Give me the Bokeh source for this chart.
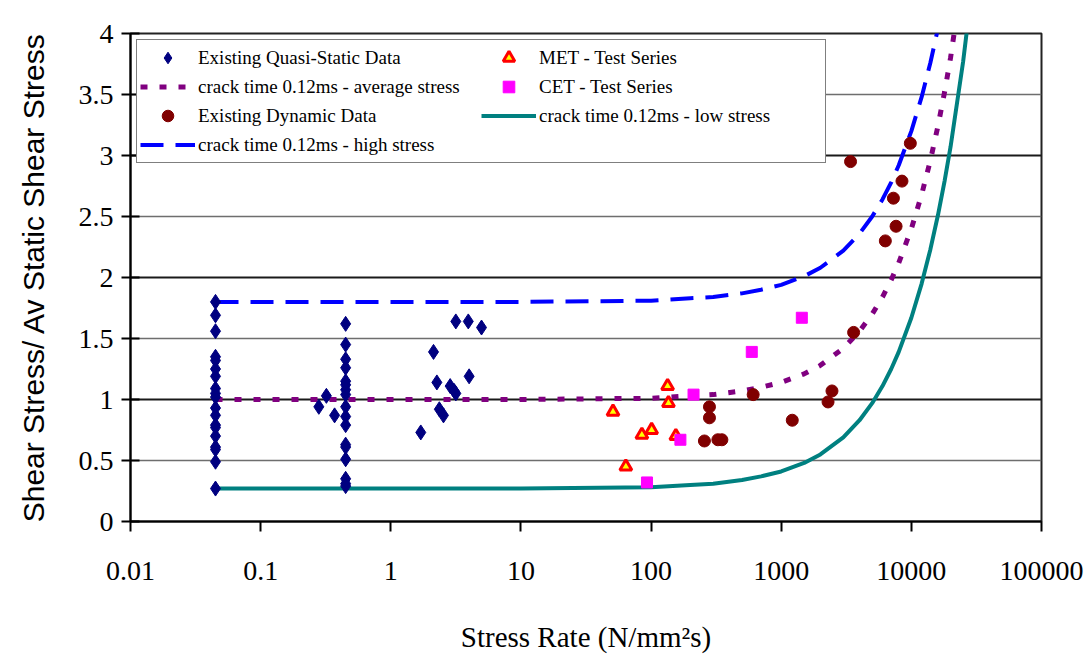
from bokeh.plotting import figure
from bokeh.models import (Range1d, FixedTicker, CustomJSTickFormatter, Grid,
                          Legend, LegendItem)
from bokeh.embed import file_html
from bokeh.resources import INLINE

# ---- data -------------------------------------------------------------
# Existing quasi-static data (stress rate N/mm^2 s, shear stress ratio)
qs_rate = [0.045, 0.045, 0.045, 0.045, 0.045, 0.045, 0.045, 0.045, 0.045, 0.045,
           0.045, 0.045, 0.045, 0.045, 0.045, 0.045, 0.045, 0.045, 0.045,
           0.45, 0.45, 0.45, 0.45, 0.45, 0.45, 0.45, 0.45, 0.45, 0.45,
           0.45, 0.45, 0.45, 0.45, 0.45, 0.45, 0.45,
           0.28, 0.32, 0.37, 1.7, 2.13, 2.26, 2.36, 2.54, 2.86, 3.07,
           3.16, 3.16, 3.94, 4.0, 4.98]
qs_ratio = [1.80, 1.69, 1.56, 1.35, 1.32, 1.25, 1.19, 1.09, 1.05, 1.02,
            0.93, 0.87, 0.79, 0.77, 0.70, 0.61, 0.59, 0.49, 0.27,
            1.62, 1.45, 1.33, 1.26, 1.15, 1.12, 1.08, 1.04, 0.94, 0.86,
            0.79, 0.63, 0.61, 0.51, 0.35, 0.31, 0.29,
            0.94, 1.03, 0.87, 0.73, 1.39, 1.14, 0.92, 0.87, 1.11, 1.07,
            1.05, 1.64, 1.64, 1.19, 1.59]

# Existing dynamic data
dyn_rate = [257, 281, 281, 326, 350, 609, 1216, 2290, 2455, 3600,
            3410, 6310, 7280, 7630, 8470, 9820]
dyn_ratio = [0.66, 0.94, 0.85, 0.67, 0.67, 1.04, 0.83, 0.98, 1.07, 1.55,
             2.95, 2.30, 2.65, 2.42, 2.79, 3.10]

# MET - test series
met_rate = [51, 64, 85, 101, 134, 136, 155]
met_ratio = [0.90, 0.45, 0.71, 0.75, 1.11, 0.97, 0.70]

# CET - test series
cet_rate = [93, 168, 212, 594, 1440]
cet_ratio = [0.32, 0.67, 1.04, 1.39, 1.67]

# crack time 0.12 ms curves
curve_rate = [0.045, 1, 10, 100, 200, 300, 500, 700, 1000, 1500, 2000, 3000,
              4000, 5000, 6000, 7000, 8000, 10000, 12000, 14000, 16000,
              18000, 20000, 25000, 30000]
high_ratio = [1.80, 1.80, 1.80, 1.81, 1.83, 1.84, 1.87, 1.90, 1.94, 2.01, 2.08,
              2.22, 2.36, 2.50, 2.64, 2.78, 2.92, 3.20, 3.48, 3.76, 4.04,
              4.32, 4.60, 5.30, 6.00]
avg_ratio = [1.00, 1.00, 1.00, 1.01, 1.03, 1.04, 1.07, 1.10, 1.14, 1.21, 1.28,
             1.42, 1.56, 1.70, 1.84, 1.98, 2.12, 2.40, 2.68, 2.96, 3.24,
             3.52, 3.80, 4.50, 5.20]
low_ratio = [0.27, 0.27, 0.27, 0.28, 0.30, 0.31, 0.34, 0.37, 0.41, 0.48, 0.55,
             0.69, 0.83, 0.97, 1.11, 1.25, 1.39, 1.67, 1.95, 2.23, 2.51,
             2.79, 3.07, 3.77, 4.47]

x_ticks = [0.01, 0.1, 1, 10, 100, 1000, 10000, 100000]
y_ticks = [0, 0.5, 1, 1.5, 2, 2.5, 3, 3.5, 4]

SERIF = "Liberation Serif"
SANS = "Liberation Sans"

# ---- figure -----------------------------------------------------------
p = figure(width=1087, height=663, x_axis_type="log",
           x_range=Range1d(0.01, 100000), y_range=Range1d(0, 4),
           output_backend="svg", toolbar_location=None,
           min_border_left=130, min_border_right=46,
           min_border_top=33, min_border_bottom=142)
p.background_fill_color = "white"
p.border_fill_color = "white"
p.outline_line_color = "#222222"
p.outline_line_width = 2

# gridlines: lighter at half steps, darker at whole numbers
p.xgrid.grid_line_color = None
p.ygrid.ticker = FixedTicker(ticks=[0.5, 1.5, 2.5, 3.5])
p.ygrid.grid_line_color = "#6e6e6e"
p.ygrid.grid_line_width = 1.5
p.add_layout(Grid(dimension=1, ticker=FixedTicker(ticks=[1, 2, 3]),
                  grid_line_color="#1a1a1a", grid_line_width=2))

tick_fmt = CustomJSTickFormatter(code="return tick.toString();")

xa = p.xaxis[0]
xa.ticker = FixedTicker(ticks=x_ticks)
xa.formatter = tick_fmt
xa.axis_label = "Stress Rate (N/mm\u00b2s)"
xa.axis_label_text_font = SERIF
xa.axis_label_text_font_size = "29px"
xa.axis_label_text_font_style = "normal"
xa.axis_label_standoff = 38
xa.major_label_text_font = SERIF
xa.major_label_text_font_size = "28px"
xa.major_label_standoff = 30
xa.major_tick_in = 0
xa.major_tick_out = 10
xa.minor_tick_line_color = None
xa.axis_line_width = 2
xa.major_tick_line_width = 2
xa.axis_line_color = "black"
xa.major_label_text_color = "black"
xa.axis_label_text_color = "black"

ya = p.yaxis[0]
ya.ticker = FixedTicker(ticks=y_ticks)
ya.formatter = tick_fmt
ya.axis_label = "Shear Stress/ Av Static Shear Stress"
ya.axis_label_text_font = SANS
ya.axis_label_text_font_size = "30px"
ya.axis_label_text_font_style = "normal"
ya.axis_label_standoff = 26
ya.major_label_text_font = SERIF
ya.major_label_text_font_size = "28px"
ya.major_label_standoff = 8
ya.major_tick_in = 9
ya.major_tick_out = 9
ya.minor_tick_line_color = None
ya.axis_line_width = 2
ya.major_tick_line_width = 2
ya.axis_line_color = "black"
ya.major_label_text_color = "black"
ya.axis_label_text_color = "black"

# ---- curves -----------------------------------------------------------
r_avg = p.line(curve_rate, avg_ratio, line_color="#800080", line_width=5,
               line_dash="7 12")
r_high = p.line(curve_rate, high_ratio, line_color="#0000FF", line_width=4,
                line_dash="23 12")
r_low = p.line(curve_rate, low_ratio, line_color="#008080", line_width=4)

# ---- measured points --------------------------------------------------
r_qs = p.scatter(qs_rate, qs_ratio, marker="diamond", size=15,
                 fill_color="#000080", line_color="#000080")
r_dyn = p.scatter(dyn_rate, dyn_ratio, marker="circle", size=12,
                  fill_color="#800000", line_color="#800000")
r_met = p.scatter(met_rate, met_ratio, marker="triangle", size=12,
                  fill_color="#FFFF00", line_color="#FF0000", line_width=3)
r_cet = p.scatter(cet_rate, cet_ratio, marker="square", size=11,
                  fill_color="#FF00FF", line_color="#FF00FF")

# ---- legend -----------------------------------------------------------
legend = Legend(items=[
    LegendItem(label="Existing Quasi-Static Data", renderers=[r_qs]),
    LegendItem(label="crack time 0.12ms - average stress", renderers=[r_avg]),
    LegendItem(label="Existing Dynamic Data", renderers=[r_dyn]),
    LegendItem(label="crack time 0.12ms - high stress", renderers=[r_high]),
    LegendItem(label="MET - Test Series", renderers=[r_met]),
    LegendItem(label="CET - Test Series", renderers=[r_cet]),
    LegendItem(label="crack time 0.12ms - low stress", renderers=[r_low]),
], ncols=2, location="top_left")
legend.margin = 6
legend.padding = 3
legend.spacing = 0
legend.glyph_width = 55
legend.glyph_height = 29
legend.label_height = 29
legend.label_width = 283
legend.label_standoff = 3
legend.label_text_font = SERIF
legend.label_text_font_size = "19px"
legend.label_text_color = "black"
legend.border_line_color = "black"
legend.border_line_width = 1.5
legend.background_fill_color = "white"
legend.background_fill_alpha = 1.0
p.add_layout(legend)

open("out.html", "w").write(file_html(p, INLINE))
